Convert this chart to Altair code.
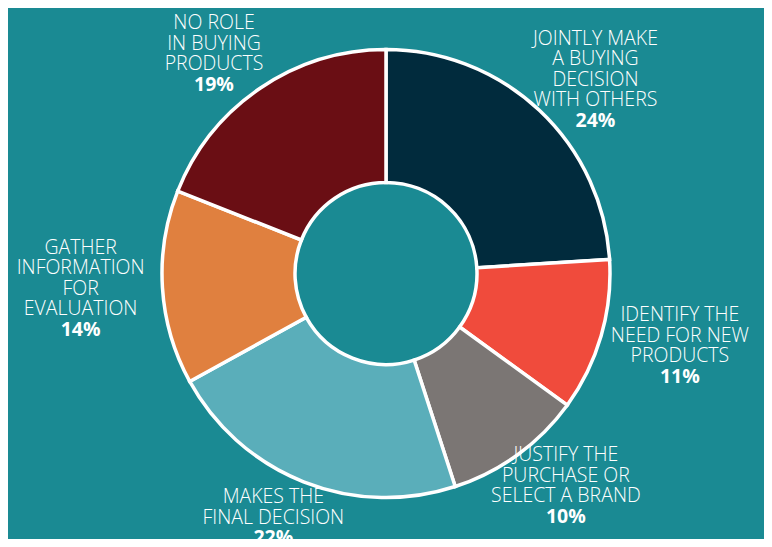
import altair as alt
import pandas as pd

categories = [
    "JOINTLY MAKE\nA BUYING\nDECISION\nWITH OTHERS",
    "IDENTIFY THE\nNEED FOR  NEW\nPRODUCTS",
    "JUSTIFY THE\nPURCHASE OR\nSELECT A BRAND",
    "MAKES THE\nFINAL DECISION",
    "GATHER\nINFORMATION\nFOR\nEVALUATION",
    "NO ROLE\nIN BUYING\nPRODUCTS",
]
values = [24, 11, 10, 22, 14, 19]
pct_labels = ["24%", "11%", "10%", "22%", "14%", "19%"]
colors = ["#012b3d", "#f04b3c", "#7b7674", "#5aaeba", "#e0803f", "#6a0e14"]

df = pd.DataFrame({
    "cat": categories,
    "value": values,
    "pct": pct_labels,
    "n": [c.count("\n") + 1 for c in categories],
    "order": list(range(len(values))),
})

BG = "#1a8a93"
FONT = "Open Sans"
FS = 19.5
LH = 20.5
W, H = 756, 531
RX, RY = 306, 264   # label ring (elliptical)
TOTAL = sum(values)

arcs = alt.Chart(df).mark_arc(
    outerRadius=224, innerRadius=91, stroke="white", strokeWidth=3.5
).encode(
    theta=alt.Theta("value:Q", stack=True),
    order=alt.Order("order:Q", sort="ascending"),
    color=alt.Color("cat:N", scale=alt.Scale(domain=categories, range=colors), legend=None),
)

text_base = alt.Chart(df).transform_window(
    cum="sum(value)", sort=[alt.SortField("order", order="ascending")]
).transform_calculate(
    ang=f"2 * PI * (datum.cum - datum.value / 2) / {TOTAL}"
).transform_calculate(
    lx=f"{W / 2} + {RX} * sin(datum.ang)",
    ly=f"{H / 2} - {RY} * cos(datum.ang) - (datum.n + 1) * {LH} / 2",
).transform_calculate(
    py=f"datum.ly + datum.n * {LH}"
)

labels = text_base.mark_text(
    align="center", baseline="top", lineBreak="\n",
    font=FONT, fontSize=FS, lineHeight=LH, fontWeight=300, color="white",
).encode(
    x=alt.X("lx:Q", scale=None),
    y=alt.Y("ly:Q", scale=None),
    text="cat:N",
)

pcts = text_base.mark_text(
    align="center", baseline="top",
    font=FONT, fontSize=FS, fontWeight="bold", color="white",
).encode(
    x=alt.X("lx:Q", scale=None),
    y=alt.Y("py:Q", scale=None),
    text="pct:N",
)

chart = alt.layer(arcs, labels, pcts).properties(
    width=W, height=H, background=BG, padding=0,
    autosize=alt.AutoSizeParams(type="none"),
).configure_view(stroke=None)

chart.save("out.html", embed_options={"renderer": "svg", "actions": False})
